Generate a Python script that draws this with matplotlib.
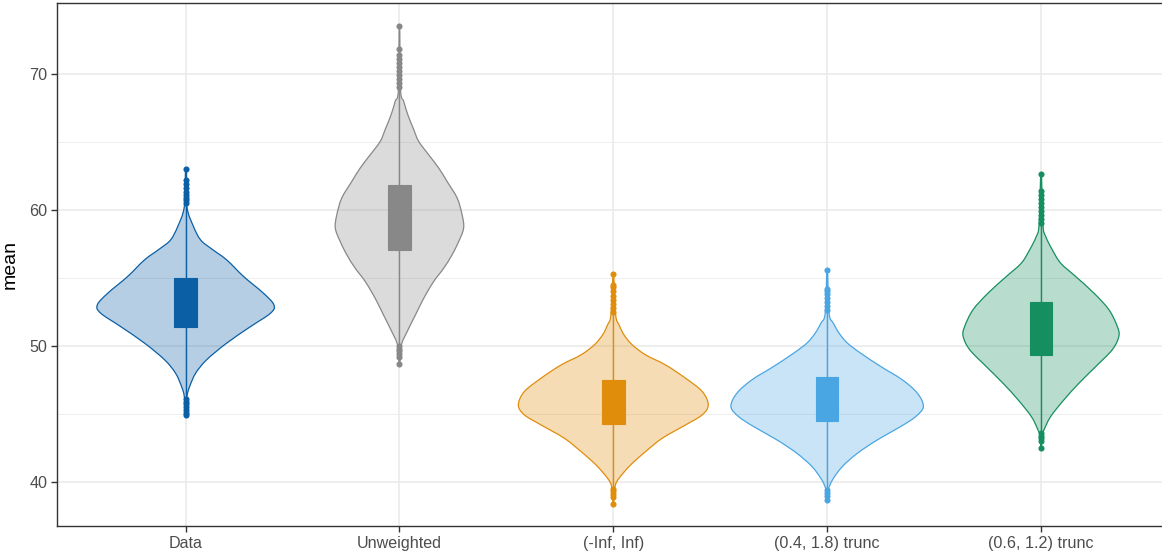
"""
Violin + box plot of the mean for the data and the four weighting schemes
"""
import numpy as np
import matplotlib
matplotlib.use('Agg')
import matplotlib.pyplot as plt
from matplotlib.path import Path
from matplotlib.patches import PathPatch, Rectangle

plt.rcParams['font.family'] = ['Liberation Sans', 'DejaVu Sans']

# ---- data ----
groups = ['Data', 'Unweighted', '(-Inf, Inf)', '(0.4, 1.8) trunc', '(0.6, 1.2) trunc']
colors = ['#0B5FA5', '#888888', '#E08D0B', '#4AA6E2', '#168F60']

# violin outline: levels (value) and half widths (x units)
data_y = [60.24, 58.77, 57.79, 57.18, 56.32, 55.10, 53.87, 53.01, 52.40, 51.42, 50.20, 48.97, 47.99, 47.01, 46.27]
data_hw = [0.006, 0.037, 0.070, 0.117, 0.192, 0.271, 0.364, 0.413, 0.397, 0.304, 0.192, 0.098, 0.047, 0.019, 0.006]
unw_y = [68.82, 67.97, 66.99, 66.01, 65.03, 64.04, 63.06, 62.08, 60.86, 59.63, 58.65, 57.67, 56.69, 55.71, 54.73, 53.51, 52.28, 51.05, 50.07]
unw_hw = [0.005, 0.020, 0.039, 0.064, 0.090, 0.137, 0.184, 0.223, 0.270, 0.293, 0.300, 0.277, 0.246, 0.207, 0.160, 0.114, 0.075, 0.036, 0.009]
inf_y = [52.28, 51.54, 50.81, 50.07, 49.34, 48.60, 47.62, 46.64, 45.66, 44.93, 44.19, 43.21, 42.23, 41.25, 40.27, 39.66]
inf_hw = [0.011, 0.027, 0.050, 0.089, 0.151, 0.244, 0.338, 0.416, 0.444, 0.416, 0.338, 0.229, 0.151, 0.081, 0.027, 0.008]
t18_y = [52.40, 51.67, 50.93, 50.20, 49.46, 48.48, 47.50, 46.52, 45.54, 44.80, 44.07, 43.09, 42.11, 41.13, 40.15, 39.41]
t18_hw = [0.009, 0.029, 0.056, 0.095, 0.157, 0.251, 0.352, 0.422, 0.450, 0.414, 0.344, 0.235, 0.142, 0.071, 0.025, 0.005]
t12_y = [58.90, 58.04, 57.06, 56.08, 55.10, 53.87, 52.65, 51.42, 50.69, 49.71, 48.48, 47.26, 46.03, 44.80, 43.82, 43.33]
t12_hw = [0.009, 0.022, 0.053, 0.092, 0.162, 0.248, 0.318, 0.357, 0.364, 0.333, 0.256, 0.178, 0.107, 0.045, 0.014, 0.003]

# box: lower and upper hinge
q1 = [51.42, 57.06, 44.24, 44.49, 49.34]
q3 = [54.98, 61.84, 47.50, 47.70, 53.21]

# outlying points
data_out = [60.5, 60.7, 60.9, 61.1, 61.3, 61.6, 61.9, 62.2, 63.0, 46.1, 45.9, 45.7, 45.5, 45.3, 45.1, 44.9]
unw_out = [69.0, 69.3, 69.6, 69.9, 70.2, 70.5, 70.8, 71.1, 71.4, 71.8, 73.5, 50.0, 49.8, 49.6, 49.4, 49.2, 48.7]
inf_out = [52.5, 52.8, 53.1, 53.4, 53.7, 54.0, 54.3, 54.5, 55.3, 39.5, 39.3, 39.1, 38.9, 38.4]
t18_out = [52.6, 52.9, 53.2, 53.5, 53.8, 54.0, 54.2, 55.6, 39.4, 39.2, 39.0, 38.7]
t12_out = [59.0, 59.3, 59.6, 59.9, 60.2, 60.5, 60.8, 61.1, 61.4, 62.65, 43.6, 43.4, 43.2, 43.0, 42.5]

violin_y = [data_y, unw_y, inf_y, t18_y, t12_y]
violin_hw = [data_hw, unw_hw, inf_hw, t18_hw, t12_hw]
outliers = [data_out, unw_out, inf_out, t18_out, t12_out]


def violin_path(cx, ys, hws, ymin, ymax):
	# closed outline through the read points, drawn as a smooth curve
	order = np.argsort(ys)
	ys = np.asarray(ys)[order]; hws = np.asarray(hws)[order]
	pts = [(cx, ymin)] + [(cx + h, y) for y, h in zip(ys, hws)] + [(cx, ymax)] \
		+ [(cx - h, y) for y, h in zip(ys[::-1], hws[::-1])]
	pts = np.array(pts)
	n = len(pts)
	verts = [pts[0]]; codes = [Path.MOVETO]
	for i in range(n):
		p0 = pts[i - 1]; p1 = pts[i]; p2 = pts[(i + 1) % n]; p3 = pts[(i + 2) % n]
		c1 = p1 + (p2 - p0) / 6.0
		c2 = p2 - (p3 - p1) / 6.0
		verts += [c1, c2, p2]; codes += [Path.CURVE4] * 3
	return Path(verts, codes)


fig = plt.figure(figsize=[11.62, 5.57], dpi=100, facecolor='white')
ax = fig.add_axes([57.3 / 1162, 31.0 / 557, 1112.0 / 1162, 523.0 / 557])
ax.set_xlim(0.4, 5.6); ax.set_ylim(36.76, 75.2)

# grid, theme_bw style
for v in [45, 55, 65]:
	ax.axhline(v, color='#EBEBEB', linewidth=0.6, zorder=0)
for v in [40, 50, 60, 70]:
	ax.axhline(v, color='#EBEBEB', linewidth=1.2, zorder=0)
for i in range(len(groups)):
	ax.axvline(i + 1, color='#EBEBEB', linewidth=1.2, zorder=0)

box_hw = 0.053
for i, g in enumerate(groups):
	cx = i + 1; c = colors[i]
	pts = outliers[i]
	ymin = min(pts); ymax = max(pts)
	path = violin_path(cx, violin_y[i], violin_hw[i], ymin, ymax)
	ax.add_patch(PathPatch(path, facecolor=c, alpha=0.3, edgecolor='none', zorder=2))
	ax.add_patch(PathPatch(path, facecolor='none', edgecolor=c, linewidth=0.9, zorder=3))
	ax.plot([cx, cx], [ymin, ymax], color=c, linewidth=1.0, zorder=3)
	ax.add_patch(Rectangle((cx - box_hw, q1[i]), 2 * box_hw, q3[i] - q1[i],
		facecolor=c, edgecolor=c, linewidth=0.8, zorder=4))
	ax.plot([cx] * len(pts), pts, 'o', color=c, markersize=4.4, markeredgewidth=0, zorder=5)

ax.set_xticks(range(1, len(groups) + 1)); ax.set_xticklabels(groups)
ax.set_yticks([40, 50, 60, 70])
ax.tick_params(axis='both', direction='out', length=4, width=1.0, color='#333333',
	labelcolor='#4D4D4D', labelsize=11.6, pad=3)
for s in ax.spines.values():
	s.set_color('#333333'); s.set_linewidth(1.0)
ax.set_ylabel('mean', fontsize=14, color='black', labelpad=8)

plt.savefig('out.png', dpi=100, facecolor='white')
